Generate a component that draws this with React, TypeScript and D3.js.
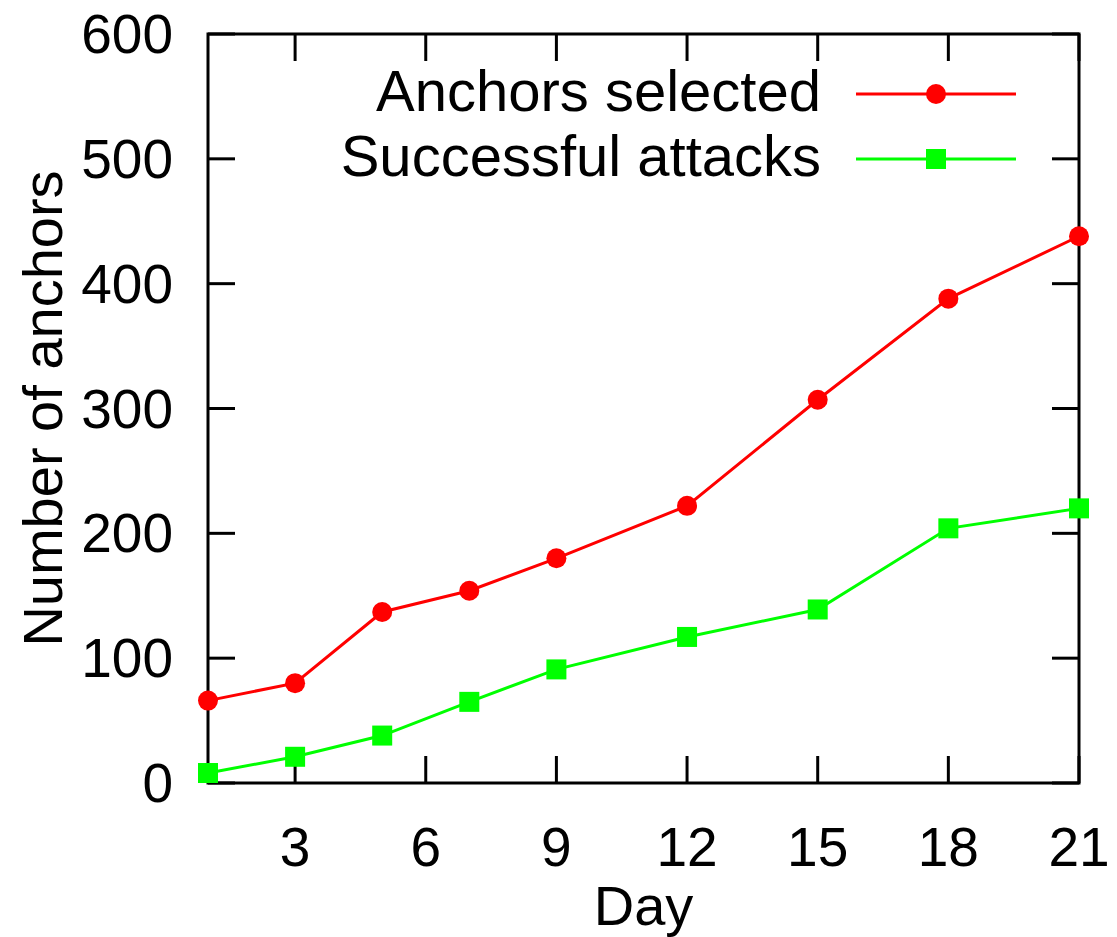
import { useEffect, useRef } from 'react';
import * as d3 from 'd3';

const days = [1, 3, 5, 7, 9, 12, 15, 18, 21];
const anchorsSelected = [66, 80, 137, 154, 180, 222, 307, 388, 438];
const successfulAttacks = [8, 21, 38, 65, 91, 117, 139, 204, 220];
const xTicks = [3, 6, 9, 12, 15, 18, 21];
const yTicks = [0, 100, 200, 300, 400, 500, 600];

const W = 1117;
const H = 937;
const FONT = '"Liberation Sans", Arial, sans-serif';

export default function App() {
  const svgRef = useRef<SVGSVGElement | null>(null);

  useEffect(() => {
    document.body.style.margin = '0';
    const svg = d3.select(svgRef.current);
    svg.selectAll('*').remove();

    const left = 208, right = 1079, top = 34, bottom = 783;
    const x = d3.scaleLinear().domain([1, 21]).range([left, right]);
    const y = d3.scaleLinear().domain([0, 600]).range([bottom, top]);
    const tick = 27;

    const g = svg.append('g');

    // ticks (mirrored on all sides, pointing inward)
    xTicks.forEach(t => {
      g.append('line').attr('x1', x(t)).attr('x2', x(t)).attr('y1', bottom).attr('y2', bottom - tick)
        .attr('stroke', '#000').attr('stroke-width', 3);
      g.append('line').attr('x1', x(t)).attr('x2', x(t)).attr('y1', top).attr('y2', top + tick)
        .attr('stroke', '#000').attr('stroke-width', 3);
      g.append('text').attr('x', x(t)).attr('y', 866).attr('text-anchor', 'middle')
        .style('font-family', FONT).style('font-size', '55px').attr('fill', '#000').text(String(t));
    });
    yTicks.forEach(t => {
      g.append('line').attr('x1', left).attr('x2', left + tick).attr('y1', y(t)).attr('y2', y(t))
        .attr('stroke', '#000').attr('stroke-width', 3);
      g.append('line').attr('x1', right).attr('x2', right - tick).attr('y1', y(t)).attr('y2', y(t))
        .attr('stroke', '#000').attr('stroke-width', 3);
      g.append('text').attr('x', 173).attr('y', y(t) + 19).attr('text-anchor', 'end')
        .style('font-family', FONT).style('font-size', '55px').attr('fill', '#000').text(String(t));
    });

    g.append('rect').attr('x', left).attr('y', top).attr('width', right - left).attr('height', bottom - top)
      .attr('fill', 'none').attr('stroke', '#000').attr('stroke-width', 3);

    const line = d3.line<[number, number]>().x(d => x(d[0])).y(d => y(d[1]));

    const red = days.map((d, i) => [d, anchorsSelected[i]] as [number, number]);
    const green = days.map((d, i) => [d, successfulAttacks[i]] as [number, number]);

    g.append('path').attr('d', line(red)).attr('fill', 'none').attr('stroke', '#ff0000').attr('stroke-width', 3);
    g.selectAll('circle.pt').data(red).join('circle').attr('class', 'pt')
      .attr('cx', d => x(d[0])).attr('cy', d => y(d[1])).attr('r', 10).attr('fill', '#ff0000');

    g.append('path').attr('d', line(green)).attr('fill', 'none').attr('stroke', '#00ff00').attr('stroke-width', 3);
    g.selectAll('rect.pt').data(green).join('rect').attr('class', 'pt')
      .attr('x', d => x(d[0]) - 10).attr('y', d => y(d[1]) - 10).attr('width', 20).attr('height', 20)
      .attr('fill', '#00ff00');

    // legend
    const legend = [
      { label: 'Anchors selected', color: '#ff0000', shape: 'circle', ly: 94 },
      { label: 'Successful attacks', color: '#00ff00', shape: 'square', ly: 159 },
    ];
    legend.forEach(l => {
      g.append('text').attr('x', 821).attr('y', l.ly + 17).attr('text-anchor', 'end')
        .style('font-family', FONT).style('font-size', '58px').attr('fill', '#000').text(l.label);
      g.append('line').attr('x1', 856).attr('x2', 1016).attr('y1', l.ly).attr('y2', l.ly)
        .attr('stroke', l.color).attr('stroke-width', 3);
      if (l.shape === 'circle') {
        g.append('circle').attr('cx', 936).attr('cy', l.ly).attr('r', 10).attr('fill', l.color);
      } else {
        g.append('rect').attr('x', 926).attr('y', l.ly - 10).attr('width', 20).attr('height', 20).attr('fill', l.color);
      }
    });

    // axis titles
    g.append('text').attr('x', (left + right) / 2).attr('y', 925).attr('text-anchor', 'middle')
      .style('font-family', FONT).style('font-size', '56px').attr('fill', '#000').text('Day');
    g.append('text').attr('transform', `translate(62,${(top + bottom) / 2}) rotate(-90)`)
      .attr('text-anchor', 'middle')
      .style('font-family', FONT).style('font-size', '56px').attr('fill', '#000').text('Number of anchors');
  }, []);

  return <svg ref={svgRef} width={W} height={H} style={{ display: 'block', background: '#fff' }}></svg>;
}
